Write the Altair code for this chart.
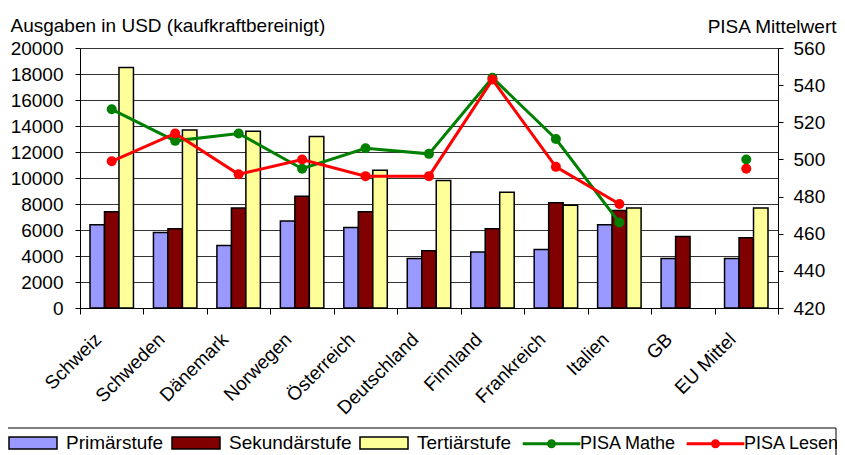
import altair as alt
import pandas as pd

countries = ["Schweiz", "Schweden", "Dänemark", "Norwegen", "Österreich",
             "Deutschland", "Finnland", "Frankreich", "Italien", "GB", "EU Mittel"]
stufen = ["Primärstufe", "Sekundärstufe", "Tertiärstufe"]
primaer = [6400, 5800, 4800, 6700, 6200, 3800, 4300, 4500, 6400, 3800, 3800]
sekundaer = [7400, 6100, 7700, 8600, 7400, 4400, 6100, 8100, 7500, 5500, 5400]
tertiaer = [18500, 13700, 13600, 13200, 10600, 9800, 8900, 7900, 7700, None, 7700]
tests = ["PISA Mathe", "PISA Lesen"]
pisa_mathe = [527, 510, 514, 495, 506, 503, 544, 511, 466, None, 500]
pisa_lesen = [499, 514, 492, 500, 491, 491, 543, 496, 476, None, 495]

bar_rows = []
for s, vals in zip(stufen, [primaer, sekundaer, tertiaer]):
    for c, v in zip(countries, vals):
        bar_rows.append({"Land": c, "Stufe": s, "Ausgaben": v})
bar_df = pd.DataFrame(bar_rows)

pisa_rows = []
for t, vals in zip(tests, [pisa_mathe, pisa_lesen]):
    for c, v in zip(countries, vals):
        pisa_rows.append({"Land": c, "Test": t, "Punkte": v})
pisa_df = pd.DataFrame(pisa_rows)

FONT = "Liberation Sans"
FS = 19

x_enc = alt.X(
    "Land:N", sort=countries,
    scale=alt.Scale(paddingInner=0, paddingOuter=0),
    axis=alt.Axis(title=None, labelAngle=315, labelAlign="right", labelBaseline="middle",
                  labelPadding=22, labelOffset=-14, tickBand="extent", tickSize=6,
                  domainColor="black", tickColor="black", labelFontSize=FS),
)

bar_legend = alt.Legend(
    title=None, orient="none", legendX=-60, legendY=382, direction="horizontal",
    symbolType="M-2,-0.5H2V0.5H-2Z", symbolSize=576, symbolStrokeColor="black",
    symbolStrokeWidth=1.5, labelOffset=20, columnPadding=5, padding=0,
    labelFontSize=FS, labelFont=FONT, labelColor="black",
)

bars = alt.Chart(bar_df).mark_bar(stroke="black", strokeWidth=1.5).encode(
    x=x_enc,
    xOffset=alt.XOffset("Stufe:N", sort=stufen,
                        scale=alt.Scale(domain=stufen, paddingInner=0, paddingOuter=0.69)),
    y=alt.Y("Ausgaben:Q", scale=alt.Scale(domain=[0, 20000]),
            axis=alt.Axis(title="Ausgaben in USD (kaufkraftbereinigt)", titleAngle=0,
                          titleAlign="left", titleBaseline="middle", titleX=-70, titleY=-23,
                          values=list(range(0, 20001, 2000)), format="d",
                          grid=True, gridColor="#333333", gridWidth=1,
                          tickSize=5, labelPadding=12, domainColor="black",
                          tickColor="black", labelFontSize=FS)),
    fill=alt.Fill("Stufe:N", sort=stufen,
                  scale=alt.Scale(domain=stufen, range=["#9999FF", "#800000", "#FFFF99"]),
                  legend=bar_legend),
)

line_legend = alt.Legend(
    title=None, orient="none", legendX=458, legendY=382, direction="horizontal",
    symbolType="M-2.4,0H2.4M-0.25,0A0.25,0.25,0,1,1,0.25,0A0.25,0.25,0,1,1,-0.25,0M-0.1,0A0.1,0.1,0,1,1,0.1,0A0.1,0.1,0,1,1,-0.1,0",
    symbolSize=576, symbolStrokeWidth=3, labelOffset=15, columnPadding=3, padding=0,
    labelFontSize=18, labelFont=FONT, labelColor="black",
)

y_pisa = alt.Y("Punkte:Q", scale=alt.Scale(domain=[420, 560]),
               axis=alt.Axis(orient="right", title="PISA Mittelwert", titleAngle=0,
                             titleAlign="right", titleBaseline="middle", titleX=58, titleY=-22,
                             values=list(range(420, 561, 20)), grid=False,
                             tickSize=5, labelPadding=10, domainColor="black",
                             tickColor="black", labelFontSize=FS))
color_pisa = alt.Color("Test:N", sort=tests,
                       scale=alt.Scale(domain=tests, range=["#008000", "#FF0000"]),
                       legend=line_legend)

lines = alt.Chart(pisa_df).mark_line(strokeWidth=3, invalid="break-paths-show-domains").encode(
    x=x_enc, y=y_pisa, color=color_pisa,
)
points = alt.Chart(pisa_df).mark_point(filled=True, size=100, opacity=1).encode(
    x=x_enc, y=y_pisa, color=color_pisa,
)

frame = alt.Chart(alt.Data(values=[{}])).mark_rect(fill=None, stroke="black", strokeWidth=1).encode(
    x=alt.value(-77), x2=alt.value(756), y=alt.value(380), y2=alt.value(420),
)

chart = alt.layer(frame, bars, alt.layer(lines, points)).resolve_scale(y="independent").properties(
    width=698, height=260,
    autosize=alt.AutoSizeParams(type="none"),
    padding={"left": 72, "top": 40, "right": 59, "bottom": 147},
).configure(font=FONT).configure_view(stroke=None).configure_axis(
    labelFont=FONT, titleFont=FONT, labelColor="black", titleColor="black",
    titleFontSize=FS, titleFontWeight="normal",
)

chart.save("out.html", embed_options={"renderer": "svg", "actions": False})
